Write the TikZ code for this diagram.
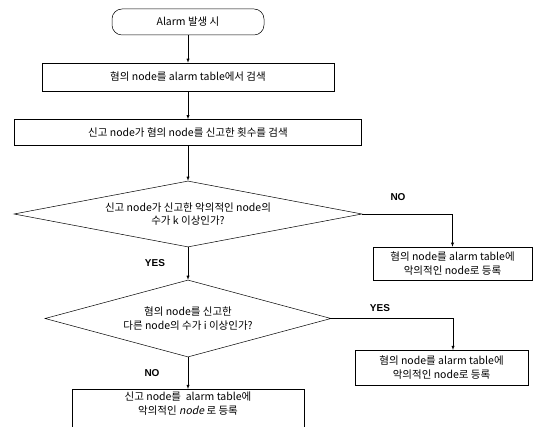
\documentclass[tikz,border=0pt]{standalone}
\usepackage{fontspec}
\setmainfont{Noto Sans CJK KR}[AutoFakeSlant=0.2]
\newfontfamily\labelfont{Liberation Sans}
\usetikzlibrary{arrows, shapes.geometric, calc, positioning}
\tikzset{
    flowStart/.style={rectangle, draw, rounded corners=10pt, minimum width=152pt, minimum height=26pt, inner sep=2pt},
    flowBox/.style={rectangle, draw, inner sep=2pt, align=center},
    flowDecision/.style={diamond, draw, shape aspect=5, inner sep=0pt, align=center},
    flowArrow/.style={->, >=latex, thin},
    flowLabel/.style={font=\labelfont\bfseries},
}
\newcommand{\drawFlow}[3][flowArrow]{
    \draw[#1] (#2) -- (#3);
}

\begin{document}
\begin{tikzpicture}[x=1pt, y=-1pt, line width=0.5pt, font=\fontsize{10.5}{13.5}\selectfont]

        \useasboundingbox (0,0) rectangle (547,427);
        \clip (0,0) rectangle (547,427);

        \node[flowStart] (start) at (188,22) {Alarm 발생 시};
        \node[flowBox, minimum width=292pt, minimum height=28pt] (search) at (188,77) {혐의 node를 alarm table에서 검색};
        \node[flowBox, minimum width=347pt, minimum height=26pt] (count) at (188,132.5) {신고 node가 혐의 node를 신고한 횟수를 검색};
        \node[flowDecision, minimum width=348pt, minimum height=66pt] (checkK) at (188,214) {신고 node가 신고한 악의적인 node의\\수가 k 이상인가?};
        \node[flowBox, minimum width=159pt, minimum height=33pt] (regA) at (452.5,263.5) {혐의 node를 alarm table에\\악의적인 node로 등록};
        \node[flowDecision, minimum width=286pt, minimum height=77pt] (checkI) at (188,318.5) {혐의 node를 신고한\\다른 node의 수가 i 이상인가?};
        \node[flowBox, minimum width=173pt, minimum height=35pt] (regB) at (441.5,367.5) {혐의 node를 alarm table에\\악의적인 node로 등록};
        \node[flowBox, anchor=north, minimum width=232pt, inner ysep=3pt, text depth=40pt] (regC) at (188,389) {신고 node를 \ alarm table에\\악의적인 \textit{node} 로 등록};
        \coordinate (regBin) at (453,350);

        \drawFlow{start.south}{search.north}
        \drawFlow{search.south}{count.north}
        \drawFlow{count.south}{checkK.north}
        \draw[flowArrow] (checkK.east) -| (regA.north);
        \drawFlow{checkK.south}{checkI.north}
        \draw[flowArrow] (checkI.east) -| (regBin);
        \drawFlow{checkI.south}{regC.north}

        \node[flowLabel] (noK) at (398,197) {NO};
        \node[flowLabel] (yesK) at (155,263) {YES};
        \node[flowLabel] (yesI) at (380,308) {YES};
        \node[flowLabel] (noI) at (152,373) {NO};

    \end{tikzpicture}
\end{document}
